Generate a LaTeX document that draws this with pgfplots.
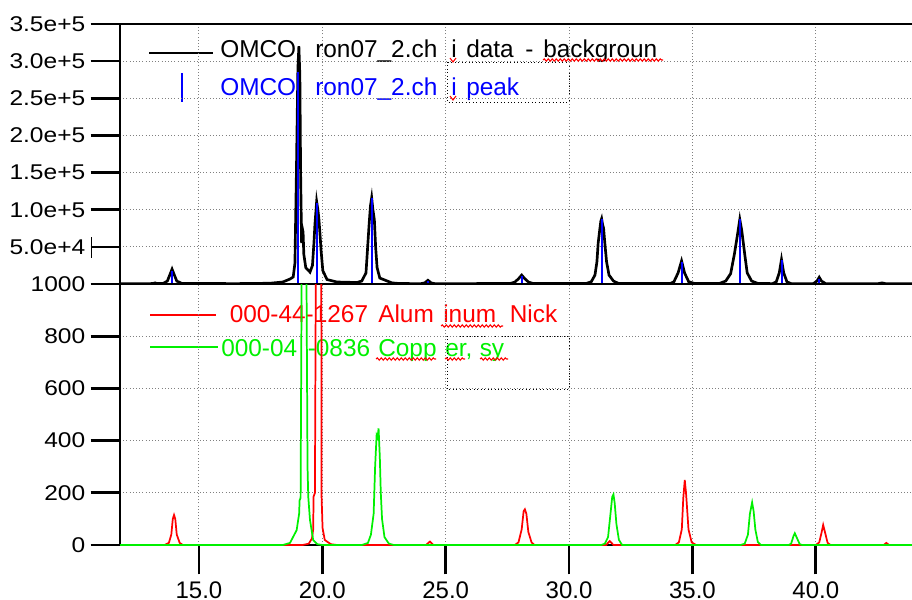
\documentclass[border=0pt]{standalone}
\usepackage{fontspec}
\setmainfont{Liberation Sans}
\usepackage{pgfplots}
\pgfplotsset{compat=1.18}
\usetikzlibrary{decorations.pathmorphing}
\definecolor{cBlue}{RGB}{0,0,255}
\definecolor{cRed}{RGB}{255,0,0}
\definecolor{cGreen}{RGB}{0,240,0}

\pgfplotstableread{
x y
11.80 300
13.00 400
13.15 800
13.22 1500
13.30 600
13.55 800
13.72 4000
13.84 14000
13.91 20000
13.98 14000
14.10 4000
14.30 800
16.50 500
17.88 1000
18.40 2700
18.69 6700
18.82 9400
18.89 28000
18.95 150000
19.01 290000
19.05 320000
19.09 280000
19.12 150000
19.16 55000
19.19 75000
19.22 70000
19.25 40000
19.33 22000
19.50 16000
19.60 25000
19.66 55000
19.70 80000
19.77 111000
19.82 100000
19.86 88000
19.90 70000
19.95 45000
20.02 18000
20.19 6000
20.59 2700
21.40 2000
21.60 4000
21.77 15000
21.89 77000
21.95 105000
22.00 116000
22.05 100000
22.11 86000
22.16 50000
22.22 22000
22.33 8000
22.82 1500
23.15 600
24.00 500
24.15 1500
24.28 5000
24.41 1500
24.55 500
27.60 600
27.80 2500
27.95 7000
28.08 12000
28.21 7000
28.36 2500
28.55 600
30.70 800
30.90 3000
31.05 12000
31.13 30000
31.18 55000
31.24 72000
31.29 85000
31.32 88000
31.36 80000
31.40 75000
31.45 55000
31.52 30000
31.62 12000
31.80 4000
32.00 800
34.10 600
34.25 3000
34.42 15000
34.56 31000
34.68 15000
34.85 3000
35.10 600
36.10 800
36.35 4000
36.55 14000
36.70 40000
36.82 65000
36.92 87000
37.00 72000
37.12 40000
37.22 15000
37.40 4000
37.65 800
38.25 500
38.40 3000
38.52 15000
38.61 33000
38.70 15000
38.83 3000
39.00 500
39.90 500
40.05 4000
40.14 9000
40.23 4000
40.40 500
42.50 300
42.69 1500
42.85 300
43.90 300
}\datatable

\pgfplotstableread{
x y
13.22 1000
13.91 18000
19.03 286000
19.79 109000
22.00 116000
24.28 4000
28.08 11000
31.33 88000
34.56 30000
36.92 87000
38.62 32000
40.14 7000
42.69 1000
}\peaktable

\pgfplotstableread{
x y
11.80 0
13.60 0
13.78 8
13.88 40
13.94 100
13.99 115
14.04 100
14.10 40
14.22 8
14.35 0
19.20 0
19.45 5
19.58 25
19.63 60
19.645 185
19.70 200
19.735 1000
19.85 1800
19.96 1000
19.97 185
20.01 65
20.10 19
20.35 3
20.60 0
24.20 0
24.36 13
24.50 0
27.80 0
27.95 10
28.08 60
28.16 130
28.21 137
28.27 120
28.35 50
28.48 10
28.60 0
31.50 0
31.65 15
31.80 0
34.30 0
34.45 10
34.57 60
34.63 180
34.69 249
34.74 200
34.77 160
34.84 60
34.97 10
35.15 0
40.00 0
40.14 10
40.24 50
40.30 77
40.37 50
40.48 8
40.60 0
42.75 0
42.86 8
42.97 0
43.90 0
}\alumtable

\pgfplotstableread{
x y
11.80 0
18.40 0
18.69 8
18.96 57
19.06 120
19.08 172
19.12 180
19.16 1000
19.26 1800
19.36 1000
19.40 300
19.43 185
19.50 96
19.63 19
19.80 3
20.00 0
21.60 0
21.85 8
21.97 40
22.08 120
22.14 300
22.20 420
22.24 411
22.28 447
22.33 338
22.37 200
22.42 100
22.52 30
22.70 5
22.90 0
31.30 0
31.45 5
31.58 30
31.68 120
31.75 185
31.80 194
31.85 160
31.92 80
32.02 20
32.15 0
36.95 0
37.12 5
37.25 40
37.33 120
37.42 163
37.48 130
37.55 60
37.65 12
37.78 0
38.90 0
39.00 5
39.10 35
39.15 45
39.22 30
39.35 3
39.45 0
43.90 0
}\coppertable

\pgfplotsset{
  panel/.style={
    scale only axis, width=594pt,
    xmin=11.8, xmax=43.9,
    separate axis lines,
    axis x line=box, axis y line=left,
    axis line style={-, line width=2pt, black},
    tick align=outside, major tick length=22pt,
    tick style={line width=2pt, black},
    grid=major,
    major grid style={gray, line width=0.7pt, dash pattern=on 0.8pt off 1.6pt},
    xtick={15,20,25,30,35,40},
    ytick pos=left,
    scaled y ticks=false,
    yticklabel style={font=\fontsize{16}{18}\selectfont, xscale=1.15},
    xticklabel style={font=\fontsize{18}{20}\selectfont, inner sep=0pt, yshift=-5pt},
  },
}
\tikzset{
  lg/.style={anchor=base west, inner sep=0pt, font=\fontsize{18.3}{22}\selectfont},
  spell/.style={cRed, line width=0.8pt, decorate, decoration={snake, amplitude=0.9pt, segment length=3pt}},
}

\begin{document}
\begin{tikzpicture}
\begin{scope}[x=0.75pt, y=-0.75pt]
  % legend samples and texts, under the data
  \draw[black, line width=1.5pt] (149,53) -- (213,53);
  \node[lg] at (220,58) {OMCO};
  \node[lg] at (315,58) {ron07\_2.ch};
  \node[lg] at (451,58) {i};
  \node[lg] at (466,58) {data};
  \node[lg] at (525,58) {-};
  \node[lg] at (543,58) {backgroun};
  \draw[cBlue, line width=1.5pt] (181.5,73) -- (181.5,102);
  \node[lg, text=cBlue] at (220,96) {OMCO};
  \node[lg, text=cBlue] at (315,96) {ron07\_2.ch};
  \node[lg, text=cBlue] at (451,96) {i};
  \node[lg, text=cBlue] at (466,96) {peak};
  \draw[black, line width=0.6pt, dotted] (447,62) rectangle (569,102);
  \draw[color=cRed, line width=1.5pt] (150,315) -- (216,315);
  \node[lg, text=cRed] at (229.5,322.5) {000-44-1267};
  \node[lg, text=cRed] at (378,322.5) {Alum};
  \node[lg, text=cRed] at (443,322.5) {inum};
  \node[lg, text=cRed] at (509.5,322.5) {Nick};
  \draw[color=cGreen, line width=1.5pt] (150,347) -- (218,347);
  \node[lg, text=cGreen] at (221,356.7) {000-04};
  \node[lg, text=cGreen] at (307.5,356.7) {-0836};
  \node[lg, text=cGreen] at (378,356.7) {Copp};
  \node[lg, text=cGreen] at (445,356.7) {er,};
  \node[lg, text=cGreen] at (479.5,356.7) {sy};
  \draw[black, line width=0.6pt, dotted] (447,336) rectangle (569,389);
\end{scope}

\begin{axis}[panel,
  at={(90pt,-18pt)}, anchor=north west, height=195pt,
  ymin=0, ymax=350000,
  xmajorticks=false,
  ytick={50000,100000,150000,200000,250000,300000,350000},
  yticklabels={5.0e+4,1.0e+5,1.5e+5,2.0e+5,2.5e+5,3.0e+5,3.5e+5},
]
\addplot[black, line width=2pt] table[x=x, y=y] {\datatable};
\addplot[cBlue, ycomb, line width=1.5pt] table[x=x, y=y] {\peaktable};
\end{axis}

\begin{axis}[panel,
  at={(90pt,-213pt)}, anchor=north west, height=195.75pt,
  ymin=0, ymax=1000,
  xtick pos=bottom,
  ytick={0,200,400,600,800,1000},
  yticklabels={0,200,400,600,800,1000},
  xticklabels={15.0,20.0,25.0,30.0,35.0,40.0},
]
\addplot[cRed, line width=1.3pt] table[x=x, y=y] {\alumtable};
\addplot[cGreen, line width=1.3pt] table[x=x, y=y] {\coppertable};
\end{axis}

\begin{scope}[x=0.75pt, y=-0.75pt]
  % spell-check marks
  \draw[spell] (543,60) -- (663,60);
  \draw[spell] (441,326) -- (503,326);
  \draw[spell] (376,359) -- (436,359);
  \draw[spell] (445,359) -- (465,359);
  \draw[spell] (480,359) -- (508,359);
  \draw[cRed, line width=0.8pt] (450,58) -- (453,62) -- (456,58);
  \draw[cRed, line width=0.8pt] (450,96) -- (453,100) -- (456,96);
  \draw[black, line width=0.7pt] (91,237) -- (91,258);
\end{scope}
\pgfresetboundingbox
\useasboundingbox (0,0) rectangle (684pt,-449.25pt);
\end{tikzpicture}
\end{document}
